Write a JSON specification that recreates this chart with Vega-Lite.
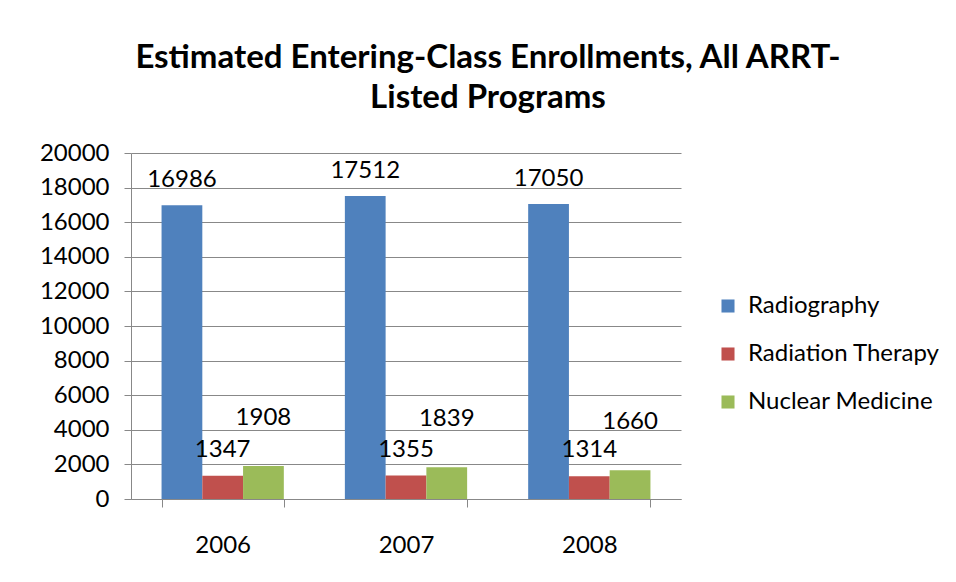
{
  "$schema": "https://vega.github.io/schema/vega-lite/v6.json",
  "autosize": "none",
  "width": 550,
  "height": 346,
  "padding": {"left": 131, "top": 153, "right": 275, "bottom": 83},
  "background": "white",
  "config": {
    "font": "Lato",
    "view": {"stroke": null}
  },
  "title": {
    "text": ["Estimated Entering-Class Enrollments, All ARRT-", "Listed Programs"],
    "font": "Lato",
    "fontSize": 33,
    "fontWeight": "bold",
    "color": "#000000",
    "anchor": "middle",
    "dx": 82,
    "offset": 26,
    "lineHeight": 40
  },
  "data": {
    "values": [
      {"year": "2006", "series": "Radiography", "value": 16986},
      {"year": "2006", "series": "Radiation Therapy", "value": 1347},
      {"year": "2006", "series": "Nuclear Medicine", "value": 1908},
      {"year": "2007", "series": "Radiography", "value": 17512},
      {"year": "2007", "series": "Radiation Therapy", "value": 1355},
      {"year": "2007", "series": "Nuclear Medicine", "value": 1839},
      {"year": "2008", "series": "Radiography", "value": 17050},
      {"year": "2008", "series": "Radiation Therapy", "value": 1314},
      {"year": "2008", "series": "Nuclear Medicine", "value": 1660}
    ]
  },
  "encoding": {
    "x": {
      "field": "year", "type": "nominal",
      "scale": {"paddingInner": 0.333, "paddingOuter": 0.1667},
      "axis": {
        "title": null, "labelAngle": 0, "labelFontSize": 24, "labelColor": "#000000",
        "labelPadding": 26, "tickBand": "extent", "tickSize": 8, "tickColor": "#888888",
        "domainColor": "#888888", "grid": false
      }
    },
    "xOffset": {"field": "series", "type": "nominal", "sort": ["Radiography", "Radiation Therapy", "Nuclear Medicine"]},
    "y": {
      "field": "value", "type": "quantitative",
      "scale": {"domain": [0, 20000], "nice": false},
      "axis": {
        "title": null, "values": [0,2000,4000,6000,8000,10000,12000,14000,16000,18000,20000],
        "format": "d", "labelFontSize": 24, "labelColor": "#000000", "labelPadding": 15,
        "tickSize": 7, "tickColor": "#888888", "domainColor": "#888888",
        "gridColor": "#888888", "gridWidth": 1
      }
    },
    "color": {
      "field": "series", "type": "nominal",
      "sort": ["Radiography", "Radiation Therapy", "Nuclear Medicine"],
      "scale": {"domain": ["Radiography", "Radiation Therapy", "Nuclear Medicine"], "range": ["#4F81BD", "#C0504D", "#9BBB59"]},
      "legend": {
        "title": null, "orient": "none", "legendX": 585, "legendY": 141,
        "symbolType": "square", "symbolSize": 170, "symbolStrokeWidth": 0,
        "labelFontSize": 24, "labelColor": "#000000", "rowPadding": 24, "labelOffset": 8,
        "labelLimit": 400
      }
    }
  },
  "layer": [
    {"mark": {"type": "bar"}},
    {
      "transform": [{"filter": "datum.series === 'Radiography'"}],
      "mark": {"type": "text", "fontSize": 24, "color": "#000000", "baseline": "middle", "dy": -25},
      "encoding": {"text": {"field": "value", "type": "quantitative", "format": "d"}, "color": {"value": "#000000"}}
    },
    {
      "transform": [{"filter": "datum.series === 'Radiation Therapy'"}],
      "mark": {"type": "text", "fontSize": 24, "color": "#000000", "baseline": "middle", "dy": -26},
      "encoding": {"text": {"field": "value", "type": "quantitative", "format": "d"}, "color": {"value": "#000000"}}
    },
    {
      "transform": [{"filter": "datum.series === 'Nuclear Medicine'"}],
      "mark": {"type": "text", "fontSize": 24, "color": "#000000", "baseline": "middle", "dy": -48},
      "encoding": {"text": {"field": "value", "type": "quantitative", "format": "d"}, "color": {"value": "#000000"}}
    }
  ]
}
